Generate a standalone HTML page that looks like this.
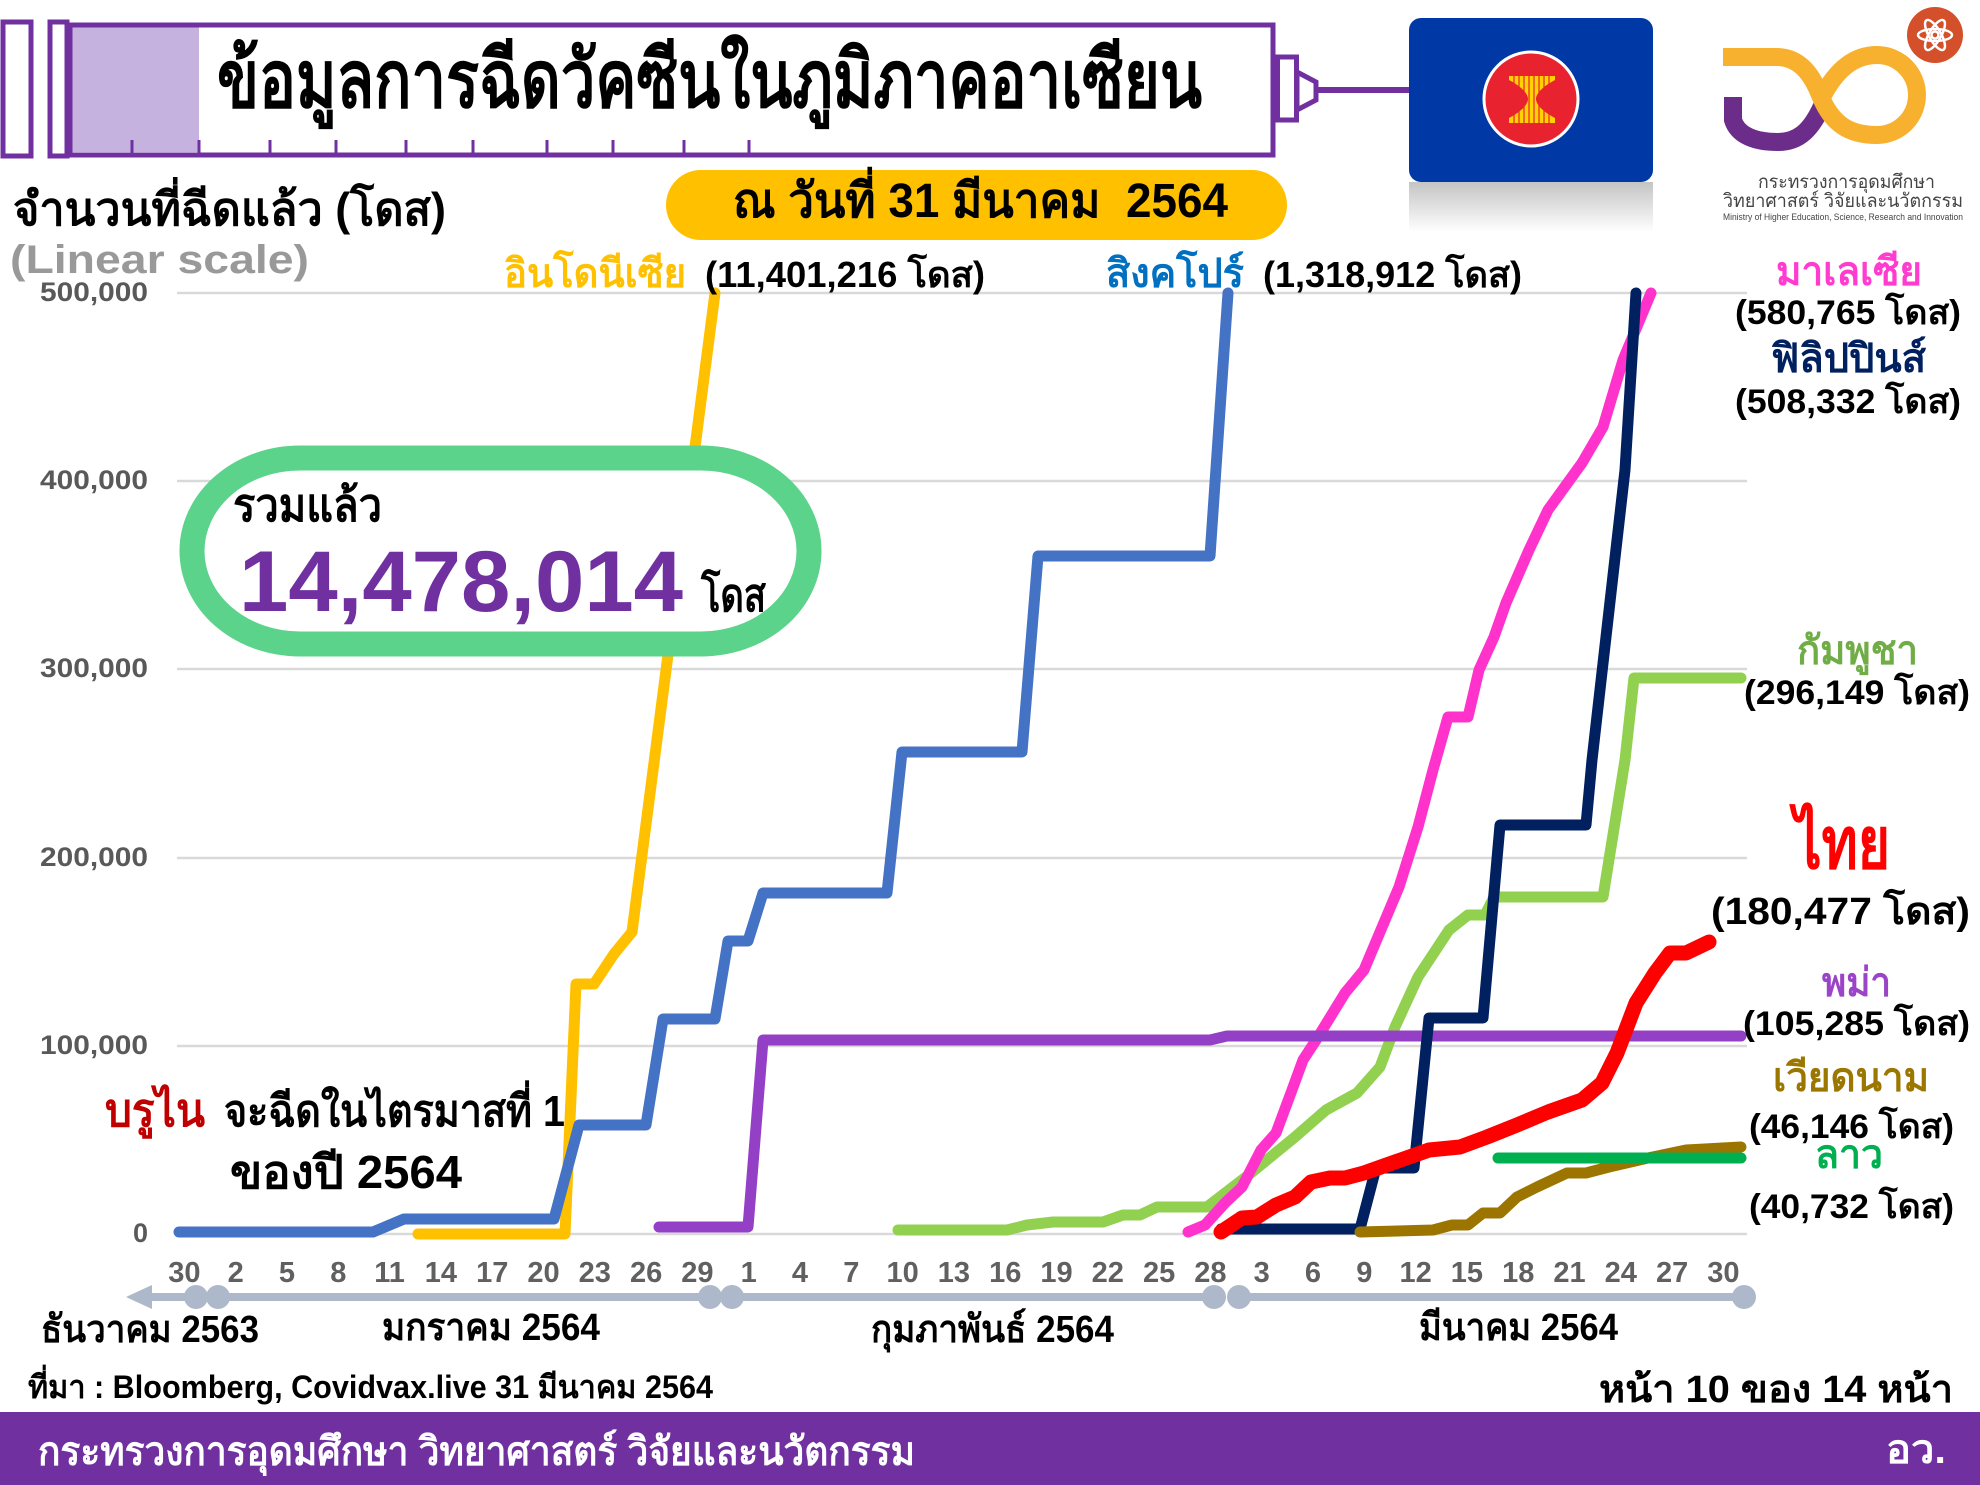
<!DOCTYPE html>
<html><head><meta charset="utf-8"><style>
html,body{margin:0;padding:0;background:#fff;}
svg{display:block;}
text{font-family:"Liberation Sans","DejaVu Sans","Noto Sans CJK SC",sans-serif;font-weight:bold;}
</style></head><body>
<svg width="1980" height="1485" viewBox="0 0 1980 1485" xmlns="http://www.w3.org/2000/svg">
<defs>
<linearGradient id="refl" x1="0" y1="0" x2="0" y2="1">
<stop offset="0" stop-color="#c4c4c4"/><stop offset="1" stop-color="#ffffff"/>
</linearGradient>
</defs>
<rect x="0" y="0" width="1980" height="1485" fill="#fff"/>

<!-- Syringe -->
<rect x="72" y="27" width="127" height="125" fill="#c6b2df"/>
<rect x="3" y="22" width="28" height="134" fill="none" stroke="#7030a0" stroke-width="5"/>
<rect x="50" y="22" width="17" height="134" fill="none" stroke="#7030a0" stroke-width="5"/>
<rect x="70" y="25" width="1203" height="130" fill="none" stroke="#7030a0" stroke-width="5"/>
<g stroke="#7030a0" stroke-width="3">
<line x1="132" y1="140" x2="132" y2="153"/><line x1="199" y1="140" x2="199" y2="153"/>
<line x1="270" y1="140" x2="270" y2="153"/><line x1="336" y1="140" x2="336" y2="153"/>
<line x1="406" y1="140" x2="406" y2="153"/><line x1="473" y1="140" x2="473" y2="153"/>
<line x1="547" y1="140" x2="547" y2="153"/><line x1="613" y1="140" x2="613" y2="153"/>
<line x1="684" y1="140" x2="684" y2="153"/><line x1="749" y1="140" x2="749" y2="153"/>
</g>
<rect x="1277.5" y="57" width="19" height="63" fill="#fff" stroke="#7030a0" stroke-width="5"/>
<polygon points="1297,72 1316,82 1316,100 1297,110" fill="#fff" stroke="#7030a0" stroke-width="5"/>
<line x1="1316" y1="90" x2="1410" y2="90" stroke="#7030a0" stroke-width="6"/>
<text x="217" y="107" font-size="80" fill="#000" textLength="985" lengthAdjust="spacingAndGlyphs">ข้อมูลการฉีดวัคซีนในภูมิภาคอาเซียน</text>

<!-- ASEAN flag -->
<rect x="1409" y="182" width="244" height="50" fill="url(#refl)"/>
<rect x="1409" y="18" width="244" height="164" rx="12" fill="#0039a6"/>
<circle cx="1531" cy="99" r="47" fill="#e8222e" stroke="#fff" stroke-width="3"/>
<path d="M1509,76 L1555,76 L1555,80 C1540,88 1536,95 1536,99 C1536,103 1540,110 1555,118 L1555,123 L1509,123 L1509,118 C1524,110 1528,103 1528,99 C1528,95 1524,88 1509,80 Z" fill="#ffd200"/>
<g stroke="#e8222e" stroke-width="1.2">
<line x1="1514" y1="76" x2="1514" y2="123"/><line x1="1519" y1="76" x2="1519" y2="123"/>
<line x1="1524" y1="76" x2="1524" y2="123"/><line x1="1529" y1="76" x2="1529" y2="123"/>
<line x1="1534" y1="76" x2="1534" y2="123"/><line x1="1539" y1="76" x2="1539" y2="123"/>
<line x1="1544" y1="76" x2="1544" y2="123"/><line x1="1549" y1="76" x2="1549" y2="123"/>
</g>

<!-- MHESI logo -->
<path d="M1733,97 L1733,120 C1738,136 1756,142 1778,142 C1800,142 1812,128 1822,106" fill="none" stroke="#6b2c8a" stroke-width="18"/>
<path d="M1723,57 L1776,57 C1800,57 1812,75 1820,95 C1832,125 1850,135 1877,135 A40,40 0 1,0 1877,55 C1852,55 1835,72 1822,97" fill="none" stroke="#f7b12f" stroke-width="18"/>
<circle cx="1935" cy="35" r="28" fill="#d4502a"/>
<g fill="none" stroke="#fff" stroke-width="2.5">
<ellipse cx="1935" cy="35" rx="17" ry="6"/>
<ellipse cx="1935" cy="35" rx="17" ry="6" transform="rotate(60 1935 35)"/>
<ellipse cx="1935" cy="35" rx="17" ry="6" transform="rotate(120 1935 35)"/>
<circle cx="1935" cy="35" r="3.5"/>
</g>
<text x="1758" y="188" font-size="19" fill="#444" textLength="177" lengthAdjust="spacingAndGlyphs" style="font-weight:normal">กระทรวงการอุดมศึกษา</text>
<text x="1723" y="207" font-size="19" fill="#444" textLength="240" lengthAdjust="spacingAndGlyphs" style="font-weight:normal">วิทยาศาสตร์ วิจัยและนวัตกรรม</text>
<text x="1723" y="220" font-size="9" fill="#444" textLength="240" lengthAdjust="spacingAndGlyphs" style="font-weight:normal">Ministry of Higher Education, Science, Research and Innovation</text>

<!-- Date pill -->
<rect x="666" y="170" width="621" height="70" rx="35" fill="#FFC000"/>
<text x="733" y="217" font-size="48" fill="#000" textLength="495" lengthAdjust="spacingAndGlyphs">ณ วันที่ 31 มีนาคม &#160;2564</text>

<!-- Axis titles -->
<text x="13" y="225" font-size="46" fill="#000" textLength="433" lengthAdjust="spacingAndGlyphs">จำนวนที่ฉีดแล้ว (โดส)</text>
<text x="10" y="273" font-size="40" fill="#999" textLength="299" lengthAdjust="spacingAndGlyphs">(Linear scale)</text>

<!-- Gridlines -->
<g stroke="#d9d9d9" stroke-width="2.5">
<line x1="177" y1="293" x2="1747" y2="293"/>
<line x1="177" y1="481" x2="1747" y2="481"/>
<line x1="177" y1="669" x2="1747" y2="669"/>
<line x1="177" y1="858" x2="1747" y2="858"/>
<line x1="177" y1="1046" x2="1747" y2="1046"/>
<line x1="177" y1="1234" x2="1747" y2="1234"/>
</g>
<g font-size="27" fill="#595959" text-anchor="end">
<text x="148" y="301" textLength="108" lengthAdjust="spacingAndGlyphs">500,000</text>
<text x="148" y="489" textLength="108" lengthAdjust="spacingAndGlyphs">400,000</text>
<text x="148" y="677" textLength="108" lengthAdjust="spacingAndGlyphs">300,000</text>
<text x="148" y="866" textLength="108" lengthAdjust="spacingAndGlyphs">200,000</text>
<text x="148" y="1054" textLength="108" lengthAdjust="spacingAndGlyphs">100,000</text>
<text x="148" y="1242">0</text>
</g>

<!-- Series -->
<g fill="none" stroke-linecap="round" stroke-linejoin="round" stroke-width="11">
<polyline stroke="#FFC000" points="418,1234 565,1234 576,984 594,984 614,954 632,932 715,293"/>
<polyline stroke="#4472C4" points="179,1232 373,1232 404,1219 554,1219 579,1125 646,1125 663,1019 715,1019 728,941 748,941 763,893 887,893 902,752 1022,752 1038,556 1210,556 1228,293"/>
<polyline stroke="#92D050" points="898,1230 1007,1230 1027,1225 1053,1222 1103,1222 1123,1215 1140,1215 1157,1207 1207,1207 1246,1177 1295,1137 1326,1110 1357,1093 1380,1067 1395,1027 1418,977 1449,930 1468,915 1485,915 1494,897 1603,897 1625,760 1634,678 1741,678"/>
<polyline stroke="#FF33CC" points="1188,1232 1205,1225 1225,1203 1242,1187 1261,1150 1276,1133 1292,1090 1303,1060 1318,1037 1345,993 1364,970 1399,887 1418,827 1433,770 1448,717 1468,717 1479,670 1494,637 1506,603 1529,550 1548,510 1582,463 1603,427 1623,360 1651,293"/>
<polyline stroke="#9440C6" points="659,1227 748,1227 763,1040 1210,1040 1227,1036 1741,1036"/>
<polyline stroke="#002060" points="1221,1229 1360,1229 1376,1168 1414,1168 1429,1018 1483,1018 1500,825 1586,825 1592,760 1625,470 1636,293"/>
<polyline stroke="#9C7500" points="1360,1232 1433,1230 1452,1225 1468,1225 1483,1213 1500,1213 1517,1197 1537,1187 1567,1173 1586,1173 1609,1167 1648,1158 1686,1150 1741,1147"/>
<polyline stroke="#00B050" points="1498,1158 1741,1158"/>
<polyline stroke="#FF0000" stroke-width="15" points="1221,1232 1242,1218 1257,1217 1276,1205 1295,1197 1311,1182 1330,1178 1345,1178 1364,1173 1395,1162 1429,1150 1460,1147 1487,1137 1517,1125 1548,1112 1582,1100 1602,1083 1617,1053 1636,1003 1655,973 1670,953 1686,953 1709,942"/>
</g>

<!-- Total box -->
<rect x="192" y="458" width="617" height="186" rx="108" ry="93" fill="#fff" stroke="#5BD38B" stroke-width="25"/>
<text x="233" y="521" font-size="46" fill="#000" textLength="149" lengthAdjust="spacingAndGlyphs">รวมแล้ว</text>
<text x="239" y="611" font-size="86" fill="#7030a0" textLength="444" lengthAdjust="spacingAndGlyphs">14,478,014</text>
<text x="701" y="611" font-size="46" fill="#000" textLength="65" lengthAdjust="spacingAndGlyphs">โดส</text>

<!-- Country labels -->
<text x="504" y="287" font-size="40" fill="#FFC000" textLength="182" lengthAdjust="spacingAndGlyphs">อินโดนีเซีย</text>
<text x="705" y="287" font-size="36" fill="#000" textLength="280" lengthAdjust="spacingAndGlyphs">(11,401,216 โดส)</text>
<text x="1106" y="287" font-size="40" fill="#0070C0" textLength="138" lengthAdjust="spacingAndGlyphs">สิงคโปร์</text>
<text x="1263" y="287" font-size="36" fill="#000" textLength="259" lengthAdjust="spacingAndGlyphs">(1,318,912 โดส)</text>

<text x="1776" y="285" font-size="40" fill="#FF3BD0" textLength="146" lengthAdjust="spacingAndGlyphs">มาเลเซีย</text>
<text x="1735" y="324" font-size="34" fill="#000" textLength="226" lengthAdjust="spacingAndGlyphs">(580,765 โดส)</text>
<text x="1771" y="372" font-size="40" fill="#002060" textLength="155" lengthAdjust="spacingAndGlyphs">ฟิลิปปินส์</text>
<text x="1735" y="413" font-size="34" fill="#000" textLength="226" lengthAdjust="spacingAndGlyphs">(508,332 โดส)</text>
<text x="1797" y="664" font-size="40" fill="#70AD47" textLength="121" lengthAdjust="spacingAndGlyphs">กัมพูชา</text>
<text x="1744" y="704" font-size="34" fill="#000" textLength="226" lengthAdjust="spacingAndGlyphs">(296,149 โดส)</text>
<text x="1794" y="868" font-size="72" fill="#FF0000" textLength="96" lengthAdjust="spacingAndGlyphs">ไทย</text>
<text x="1711" y="924" font-size="38" fill="#000" textLength="259" lengthAdjust="spacingAndGlyphs">(180,477 โดส)</text>
<text x="1822" y="996" font-size="40" fill="#9B44C8" textLength="69" lengthAdjust="spacingAndGlyphs">พม่า</text>
<text x="1743" y="1035" font-size="34" fill="#000" textLength="227" lengthAdjust="spacingAndGlyphs">(105,285 โดส)</text>
<text x="1773" y="1091" font-size="40" fill="#9C7700" textLength="156" lengthAdjust="spacingAndGlyphs">เวียดนาม</text>
<text x="1749" y="1138" font-size="34" fill="#000" textLength="205" lengthAdjust="spacingAndGlyphs">(46,146 โดส)</text>
<text x="1815" y="1168" font-size="40" fill="#00B050" textLength="68" lengthAdjust="spacingAndGlyphs">ลาว</text>
<text x="1749" y="1218" font-size="34" fill="#000" textLength="205" lengthAdjust="spacingAndGlyphs">(40,732 โดส)</text>

<!-- Brunei -->
<text x="105" y="1126" font-size="46" fill="#C00000" textLength="100" lengthAdjust="spacingAndGlyphs">บรูไน</text>
<text x="224" y="1126" font-size="44" fill="#000" textLength="341" lengthAdjust="spacingAndGlyphs">จะฉีดในไตรมาสที่ 1</text>
<text x="230" y="1188" font-size="46" fill="#000" textLength="232" lengthAdjust="spacingAndGlyphs">ของปี 2564</text>

<!-- X tick labels -->
<g font-size="29" fill="#606060" text-anchor="middle">
<text x="184.4" y="1282">30</text><text x="235.7" y="1282">2</text><text x="287" y="1282">5</text>
<text x="338.3" y="1282">8</text><text x="389.6" y="1282">11</text><text x="440.9" y="1282">14</text>
<text x="492.2" y="1282">17</text><text x="543.5" y="1282">20</text><text x="594.8" y="1282">23</text>
<text x="646.1" y="1282">26</text><text x="697.4" y="1282">29</text><text x="748.7" y="1282">1</text>
<text x="800" y="1282">4</text><text x="851.3" y="1282">7</text><text x="902.6" y="1282">10</text>
<text x="953.9" y="1282">13</text><text x="1005.2" y="1282">16</text><text x="1056.5" y="1282">19</text>
<text x="1107.8" y="1282">22</text><text x="1159.1" y="1282">25</text><text x="1210.4" y="1282">28</text>
<text x="1261.7" y="1282">3</text><text x="1313" y="1282">6</text><text x="1364.3" y="1282">9</text>
<text x="1415.6" y="1282">12</text><text x="1466.9" y="1282">15</text><text x="1518.2" y="1282">18</text>
<text x="1569.5" y="1282">21</text><text x="1620.8" y="1282">24</text><text x="1672.1" y="1282">27</text>
<text x="1723.4" y="1282">30</text>
</g>

<!-- Timeline -->
<g stroke="#adb9ca" stroke-width="8" fill="#adb9ca">
<line x1="145" y1="1297" x2="196" y2="1297"/>
<line x1="218" y1="1297" x2="710" y2="1297"/>
<line x1="732" y1="1297" x2="1214" y2="1297"/>
<line x1="1239" y1="1297" x2="1744" y2="1297"/>
</g>
<polygon points="126,1297 152,1285 152,1309" fill="#adb9ca"/>
<g fill="#adb9ca">
<circle cx="196" cy="1297" r="12"/><circle cx="218" cy="1297" r="12"/>
<circle cx="710" cy="1297" r="12"/><circle cx="732" cy="1297" r="12"/>
<circle cx="1214" cy="1297" r="12"/><circle cx="1239" cy="1297" r="12"/>
<circle cx="1744" cy="1297" r="12"/>
</g>

<!-- Month labels -->
<g font-size="38" fill="#000">
<text x="41" y="1342" textLength="218" lengthAdjust="spacingAndGlyphs">ธันวาคม 2563</text>
<text x="382" y="1340" textLength="218" lengthAdjust="spacingAndGlyphs">มกราคม 2564</text>
<text x="871" y="1342" textLength="243" lengthAdjust="spacingAndGlyphs">กุมภาพันธ์ 2564</text>
<text x="1419" y="1340" textLength="199" lengthAdjust="spacingAndGlyphs">มีนาคม 2564</text>
</g>

<!-- Footer -->
<text x="28" y="1398" font-size="32" fill="#000" textLength="685" lengthAdjust="spacingAndGlyphs">ที่มา : Bloomberg, Covidvax.live 31 มีนาคม 2564</text>
<text x="1599" y="1402" font-size="38" fill="#000" textLength="354" lengthAdjust="spacingAndGlyphs">หน้า 10 ของ 14 หน้า</text>
<rect x="0" y="1412" width="1980" height="73" fill="#7030a0"/>
<text x="38" y="1465" font-size="40" fill="#fff" textLength="877" lengthAdjust="spacingAndGlyphs">กระทรวงการอุดมศึกษา วิทยาศาสตร์ วิจัยและนวัตกรรม</text>
<text x="1886" y="1463" font-size="40" fill="#fff" textLength="60" lengthAdjust="spacingAndGlyphs">อว.</text>
</svg>
</body></html>
